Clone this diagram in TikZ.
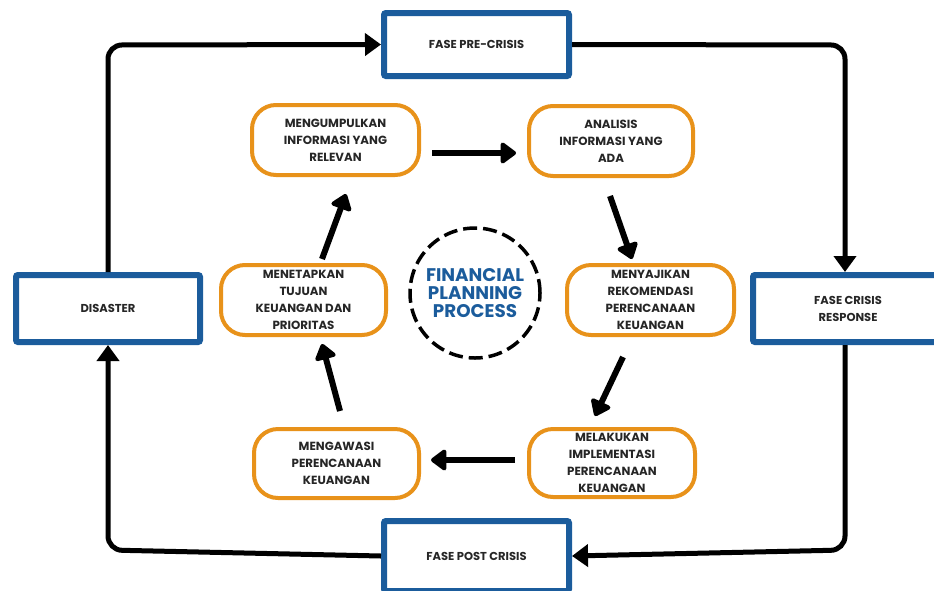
\documentclass[tikz,border=0pt]{standalone}
\usepackage{fontspec}
\setmainfont{Poppins}
\usetikzlibrary{arrows.meta,positioning}
\definecolor{fblue}{HTML}{1B5C9C}
\definecolor{forange}{HTML}{E8921A}
\begin{document}
\begin{tikzpicture}[x=1pt,y=-1pt,
  phase/.style={draw=fblue,line width=6pt,fill=white,rounded corners=2pt,inner sep=0pt,
     font=\fontsize{11.5}{17}\selectfont\bfseries,text=black!85,align=center},
  stepbox/.style={draw=forange,line width=4pt,fill=white,rounded corners=24pt,inner sep=0pt,
     font=\fontsize{11.8}{17}\selectfont\bfseries,text=black!85,align=center},
  loop/.style={line width=5pt,rounded corners=14pt,-{Triangle[length=16pt,width=22pt]}},
  flow/.style={line width=6pt,-{Triangle[length=17pt,width=24pt,round]}}]
\useasboundingbox (0,0) rectangle (934,590);
\clip (0,0) rectangle (934,590);
% phase boxes
\node[phase,minimum width=185pt,minimum height=63pt] (pre) at (476.5,44.5) {FASE PRE-CRISIS};
\node[phase,minimum width=184pt,minimum height=67pt] (dis) at (108,308.5) {DISASTER};
\node[phase,minimum width=190pt,minimum height=67pt] (cri) at (848,308.5) {FASE CRISIS\\RESPONSE};
\node[phase,minimum width=185pt,minimum height=70pt] (post) at (476.5,556) {FASE POST CRISIS};
% outer loop
\draw[loop] (dis.north) -- (108,45) -- (pre.west);
\draw[loop] (pre.east) -- (845,45) -- (845,0 |- cri.north);
\draw[loop] (845,0 |- cri.south) -- (845,550) -- (post.east);
\draw[loop] (post.west) -- (108,550) -- (dis.south);
% step boxes
\node[stepbox,minimum width=167pt,minimum height=70pt] (s1) at (335.5,140) {MENGUMPULKAN\\INFORMASI YANG\\RELEVAN};
\node[stepbox,minimum width=164pt,minimum height=70pt] (s2) at (611,141) {ANALISIS\\INFORMASI YANG\\ADA};
\node[stepbox,minimum width=167pt,minimum height=70pt] (s3) at (650.5,300) {MENYAJIKAN\\REKOMENDASI\\PERENCANAAN\\KEUANGAN};
\node[stepbox,minimum width=166pt,minimum height=68pt] (s4) at (612,463) {MELAKUKAN\\IMPLEMENTASI\\PERENCANAAN\\KEUANGAN};
\node[stepbox,minimum width=165pt,minimum height=69pt] (s5) at (336.5,463.5) {MENGAWASI\\PERENCANAAN\\KEUANGAN};
\node[stepbox,minimum width=165pt,minimum height=70pt] (s6) at (303.5,300) {MENETAPKAN\\TUJUAN\\KEUANGAN DAN\\PRIORITAS};
% centre
\node[circle,draw=black,line width=3.5pt,dash pattern=on 14pt off 6pt,minimum size=130pt,inner sep=0pt,
  font=\fontsize{18.3}{18}\selectfont\bfseries,text=fblue,align=center] (c) at (475,293) {FINANCIAL\\PLANNING\\PROCESS};
% flow arrows
\coordinate (a1s) at (432,153); \coordinate (a1e) at (516,153);
\coordinate (a2s) at (610,196); \coordinate (a2e) at (632,259);
\coordinate (a3s) at (623,357); \coordinate (a3e) at (595,416);
\coordinate (a4s) at (515,460); \coordinate (a4e) at (431,460);
\coordinate (a5s) at (340,411); \coordinate (a5e) at (322,344);
\coordinate (a6s) at (322,259); \coordinate (a6e) at (346,194);
\draw[flow] (a1s) -- (a1e);
\draw[flow] (a2s) -- (a2e);
\draw[flow] (a3s) -- (a3e);
\draw[flow] (a4s) -- (a4e);
\draw[flow] (a5s) -- (a5e);
\draw[flow] (a6s) -- (a6e);
\end{tikzpicture}
\end{document}
